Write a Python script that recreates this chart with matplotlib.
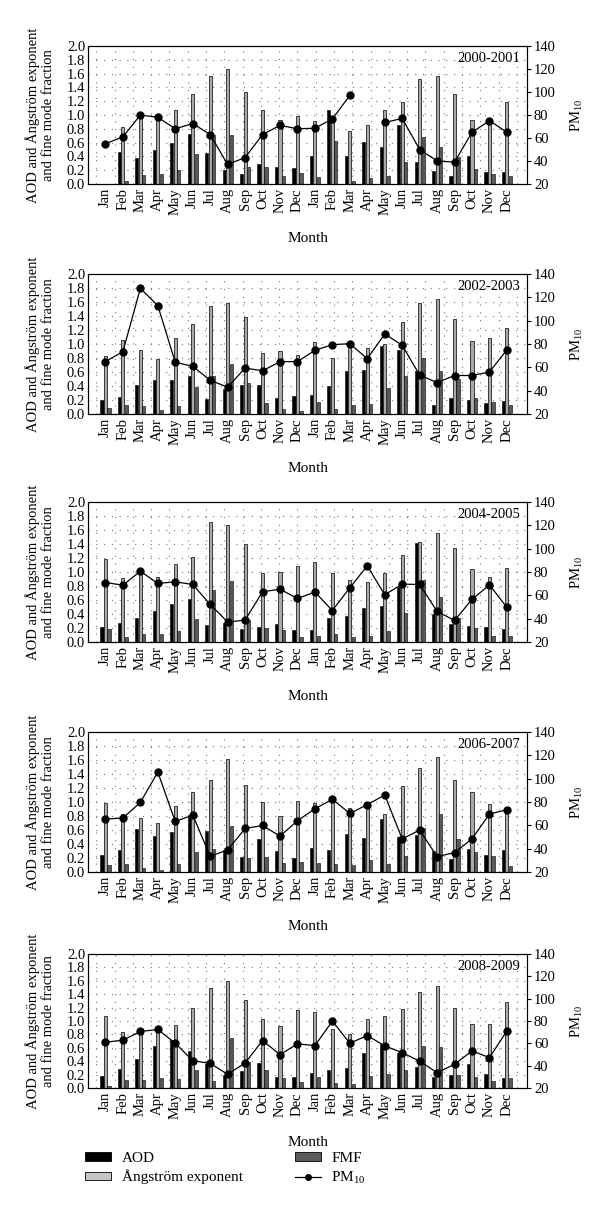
import numpy as np
import matplotlib.pyplot as plt
from matplotlib.patches import Patch
from matplotlib.lines import Line2D
from matplotlib.ticker import FixedLocator

plt.rcParams['font.family'] = ['Liberation Serif', 'DejaVu Serif']
plt.rcParams['mathtext.fontset'] = 'custom'
plt.rcParams['mathtext.rm'] = 'Liberation Serif'
plt.rcParams['mathtext.it'] = 'Liberation Serif:italic'

nan = np.nan

months = ['Jan', 'Feb', 'Mar', 'Apr', 'May', 'Jun',
          'Jul', 'Aug', 'Sep', 'Oct', 'Nov', 'Dec'] * 2
periods = ['2000-2001', '2002-2003', '2004-2005', '2006-2007', '2008-2009']

# AOD, Angstrom exponent, fine mode fraction and PM10, one list per two-year panel
aod_2000 = [nan, 0.46, 0.37, 0.49, 0.60, 0.73, 0.45, 0.21, 0.15, 0.29, 0.24, 0.23,
            0.40, 1.07, 0.40, 0.61, 0.54, 0.86, 0.32, 0.19, 0.11, 0.40, 0.18, 0.17]
ae_2000 = [nan, 0.83, 0.97, 0.95, 1.07, 1.30, 1.56, 1.67, 1.33, 1.07, 0.93, 0.99,
           0.92, 0.94, 0.77, 0.85, 1.07, 1.19, 1.52, 1.57, 1.30, 0.93, 0.95, 1.19]
fmf_2000 = [nan, 0.05, 0.13, 0.14, 0.20, 0.43, 0.71, 0.71, 0.25, 0.24, 0.11, 0.16,
            0.10, 0.62, 0.05, 0.08, 0.12, 0.32, 0.68, 0.54, 0.39, 0.22, 0.14, 0.11]
pm_2000 = [55, 61, 80, 78, 68, 72.6, 63, 37, 43, 63, 71, 68,
           68.5, 76.6, 97, nan, 73.5, 77, 50, 40, 39, 65, 75, 65]

aod_2002 = [0.20, 0.25, 0.42, 0.48, 0.48, 0.55, 0.22, 0.36, 0.42, 0.41, 0.23, 0.26,
            0.27, 0.40, 0.62, 0.63, 0.97, 0.92, 0.62, 0.13, 0.23, 0.20, 0.16, 0.18]
ae_2002 = [0.83, 1.06, 0.91, 0.78, 1.09, 1.29, 1.54, 1.59, 1.38, 0.87, 0.90, 0.85,
           1.03, 0.80, 0.98, 0.95, 1.00, 1.32, 1.58, 1.64, 1.36, 1.04, 1.09, 1.23]
fmf_2002 = [0.08, 0.13, 0.12, 0.06, 0.12, 0.38, 0.55, 0.71, 0.44, 0.16, 0.07, 0.04,
            0.17, 0.07, 0.13, 0.15, 0.37, 0.55, 0.80, 0.61, 0.50, 0.23, 0.17, 0.13]
pm_2002 = [65, 73.4, 127.7, 112.9, 64.3, 60.9, 48.9, 43, 59.4, 57, 64.9, 64.9,
           74.6, 79.4, 80.3, 67.4, 88.6, 78.9, 53.4, 46.9, 53, 53, 56, 75.1]

aod_2004 = [0.21, 0.27, 0.34, 0.45, 0.54, 0.61, 0.24, 0.27, 0.19, 0.21, 0.26, 0.17,
            0.17, 0.34, 0.37, 0.48, 0.51, 0.79, 1.42, 0.40, 0.26, 0.23, 0.22, 0.19]
ae_2004 = [1.18, 0.91, 1.00, 0.93, 1.12, 1.22, 1.71, 1.67, 1.40, 0.99, 1.00, 1.09,
           1.14, 0.99, 0.88, 0.86, 0.99, 1.25, 1.43, 1.56, 1.35, 1.04, 0.93, 1.06]
fmf_2004 = [0.18, 0.07, 0.12, 0.11, 0.16, 0.33, 0.74, 0.87, 0.31, 0.20, 0.17, 0.07,
            0.09, 0.12, 0.07, 0.09, 0.16, 0.41, 0.89, 0.65, 0.34, 0.20, 0.09, 0.09]
pm_2004 = [71, 68.7, 80.7, 70.2, 71.6, 69.3, 52.2, 37.1, 38.8, 63, 65.3, 57.3,
           62.8, 47, 66.5, 85.3, 60.5, 69.6, 69.3, 46.2, 38.5, 56.5, 69, 49.6]

aod_2006 = [0.25, 0.31, 0.62, 0.51, 0.57, 0.82, 0.59, 0.31, 0.22, 0.47, 0.30, 0.20,
            0.34, 0.31, 0.54, 0.49, 0.76, 0.50, 0.53, 0.30, 0.19, 0.33, 0.24, 0.31]
ae_2006 = [0.98, 0.83, 0.77, 0.70, 0.94, 1.15, 1.31, 1.61, 1.24, 1.00, 0.80, 1.02,
           0.98, 1.04, 0.92, 0.95, 0.83, 1.23, 1.48, 1.65, 1.32, 1.15, 0.97, 0.92]
fmf_2006 = [0.105, 0.11, 0.06, 0.03, 0.12, 0.29, 0.33, 0.66, 0.20, 0.22, 0.13, 0.15,
            0.13, 0.12, 0.105, 0.17, 0.11, 0.23, 0.63, 0.83, 0.47, 0.28, 0.23, 0.09]
pm_2006 = [65.4, 66.2, 79.7, 105.6, 63.3, 68.8, 33.5, 38.9, 57.3, 59.9, 50.7, 63.9,
           74.2, 82.3, 70.2, 77.7, 86, 48.4, 55.9, 33.2, 36.6, 48.4, 69.7, 73.4]

aod_2008 = [0.18, 0.28, 0.43, 0.62, 0.71, 0.55, 0.36, 0.195, 0.26, 0.38, 0.165, 0.16,
            0.22, 0.27, 0.30, 0.52, 0.66, 0.52, 0.31, 0.17, 0.20, 0.36, 0.21, 0.15]
ae_2008 = [1.08, 0.83, 0.85, 0.87, 0.94, 1.20, 1.50, 1.60, 1.32, 1.03, 0.92, 1.16,
           1.14, 0.88, 0.81, 1.03, 1.07, 1.18, 1.43, 1.52, 1.19, 0.95, 0.95, 1.29]
fmf_2008 = [0.035, 0.125, 0.125, 0.155, 0.14, 0.27, 0.10, 0.74, 0.39, 0.27, 0.145, 0.085,
            0.17, 0.08, 0.065, 0.185, 0.21, 0.27, 0.62, 0.61, 0.20, 0.16, 0.105, 0.15]
pm_2008 = [61, 62.8, 70.6, 72.4, 60.1, 44.5, 42, 32.3, 42.4, 62.5, 49.9, 59.5,
           58, 79.9, 60.1, 67, 57.7, 51.7, 44, 33.8, 41.2, 53.2, 47.2, 71.2]

panels = [
    (aod_2000, ae_2000, fmf_2000, pm_2000),
    (aod_2002, ae_2002, fmf_2002, pm_2002),
    (aod_2004, ae_2004, fmf_2004, pm_2004),
    (aod_2006, ae_2006, fmf_2006, pm_2006),
    (aod_2008, ae_2008, fmf_2008, pm_2008),
]

AOD_C = 'black'
AE_C = '#a9a9a9'
FMF_C = '#5a5a5a'
FS = 10.5

W, H = 600, 1213
fig = plt.figure(figsize=(W / 100, H / 100), dpi=100)

# panel extents in pixels (top, bottom)
tops = [46, 274, 502, 732, 954]
bottoms = [184, 414, 642, 872, 1088]
left_px, width_px = 88, 439

x = np.arange(1, 25)
bw = 0.18
off = 0.2

for i, (aod, ae, fmf, pm) in enumerate(panels):
    h_px = bottoms[i] - tops[i]
    ax = fig.add_axes([left_px / W, 1 - bottoms[i] / H, width_px / W, h_px / H])
    ax.set_axisbelow(True)

    ax.bar(x - off, aod, bw, color=AOD_C, edgecolor='black', linewidth=0.4)
    ax.bar(x, ae, bw, color=AE_C, edgecolor='#222222', linewidth=0.6)
    ax.bar(x + off, fmf, bw, color=FMF_C, edgecolor='black', linewidth=0.4)

    ax.set_xlim(0, 25.15)
    ax.set_ylim(0, 2.0)
    ax.set_yticks(np.arange(0, 2.01, 0.2))
    ax.set_yticklabels([f'{v:.1f}' for v in np.arange(0, 2.01, 0.2)])
    ax.set_xticks(x)
    ax.set_xticklabels(months, rotation=90)
    ax.xaxis.set_minor_locator(FixedLocator(
        [(k + 0.45) / 24 * 25.15 for k in range(24)]))
    ax.tick_params(axis='y', length=0, pad=2, labelsize=FS)
    ax.tick_params(axis='x', which='both', length=0, pad=3, labelsize=FS)

    ax.grid(axis='y', which='major', color='#777777', linestyle=(0, (1, 6)), linewidth=0.8)
    ax.grid(axis='x', which='minor', color='#777777', linestyle=(0, (1, 6)), linewidth=0.8)
    for sp in ax.spines.values():
        sp.set_linewidth(0.8)

    ax.set_ylabel('AOD and Ångström exponent\nand fine mode fraction', fontsize=FS)
    ax.yaxis.set_label_coords(-0.075, 0.5)
    ax.set_xlabel('Month', fontsize=11)
    ax.xaxis.set_label_coords(0.5, -48 / h_px)

    ax2 = ax.twinx()
    ax2.plot(x, pm, color='black', linewidth=0.9, marker='o', markersize=5)
    ax2.set_ylim(20, 140)
    ax2.set_yticks(np.arange(20, 141, 20))
    ax2.tick_params(axis='y', length=3, width=0.8, pad=2, labelsize=FS)
    ax2.set_ylabel('PM$_{10}$', fontsize=FS)
    ax2.yaxis.set_label_coords(1.095, 0.5)
    for sp in ax2.spines.values():
        sp.set_linewidth(0.8)

    ax.text(0.985, 0.955, periods[i], transform=ax.transAxes,
            ha='right', va='top', fontsize=FS)

handles = [
    Patch(facecolor=AOD_C, edgecolor='black', linewidth=0.6, label='AOD'),
    Patch(facecolor='#c4c4c4', edgecolor='black', linewidth=0.6, label='Ångström exponent'),
    Patch(facecolor=FMF_C, edgecolor='black', linewidth=0.6, label='FMF'),
    Line2D([], [], color='black', linewidth=0.9, marker='o', markersize=4, label='PM$_{10}$'),
]
fig.legend(handles=handles, ncol=2, loc='upper left',
           bbox_to_anchor=(85 / W, 1 - 1152 / H), frameon=False,
           fontsize=11, handlelength=1.7, handleheight=0.5, handletextpad=0.7,
           labelspacing=0.3, columnspacing=3.4, borderpad=0, borderaxespad=0)

fig.savefig('out.png', dpi=100)
